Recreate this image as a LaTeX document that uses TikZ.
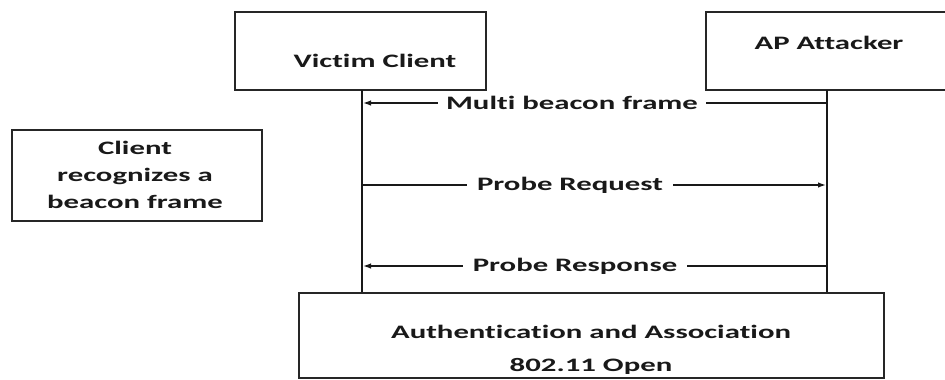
\documentclass[tikz,border=0pt]{standalone}
\usepackage{fontspec}
\setmainfont{Carlito}[FakeStretch=1.62, Ligatures=NoCommon, BoldFeatures={FakeStretch=1.62}]
\usetikzlibrary{arrows.meta,calc}
\begin{document}
\begin{tikzpicture}[x=1pt,y=-1pt,
  box/.style={draw=black!85, line width=1.4pt, fill=white, inner sep=0pt},
  txt/.style={font=\fontsize{19}{27}\selectfont\bfseries, text=black!90, inner sep=0pt, align=center},
  msg/.style={font=\fontsize{19}{22}\selectfont\bfseries, text=black!90, inner ysep=0pt, inner xsep=8pt, fill=white},
  life/.style={line width=1.4pt, draw=black!90},
  arr/.style={life, -{Latex[length=8pt,width=5.5pt]}}
]
\useasboundingbox (0,0) rectangle (945,380);
\clip (0,0) rectangle (945,380);

% participant boxes
\node[box, minimum width=251pt, minimum height=78pt] (victim) at (360.5,51) {};
\node[txt] (victimtxt) at (375,61) {Victim Client};
\node[box, minimum width=250pt, minimum height=78pt] (ap) at (831,51) {};
\node[txt] (aptxt) at (829,43) {AP Attacker};

% lifeline anchors
\coordinate (vtop) at (362,90);
\coordinate (atop) at (827,90);
\coordinate (vbot) at (362,293);
\coordinate (abot) at (827,293);
\draw[life] (vtop) -- (vbot);
\draw[life] (atop) -- (abot);

% side note
\node[box, minimum width=250pt, minimum height=91pt] (note) at (137,175.5) {};
\node[txt] (notetxt) at (135,175) {Client\\recognizes a\\beacon frame};

% final phase box
\node[box, minimum width=585pt, minimum height=85pt] (auth) at (591.5,335.5) {};
\node[txt, font=\fontsize{19}{33}\selectfont\bfseries] (authtxt) at (591,350) {Authentication and Association\\802.11 Open};

% messages
\node[msg] (m1) at (572,103) {Multi beacon frame};
\coordinate (m1a) at (827,103);
\coordinate (m1v) at (363,103);
\draw[life] (m1a) -- (m1.east);
\draw[arr] (m1.west) -- (m1v);

\node[msg, inner xsep=10pt] (m2) at (570,185) {Probe Request};
\coordinate (m2v) at (362,185);
\coordinate (m2a) at (826,185);
\draw[life] (m2v) -- (m2.west);
\draw[arr] (m2.east) -- (m2a);

\node[msg, inner xsep=10pt] (m3) at (575,266) {Probe Response};
\coordinate (m3a) at (827,266);
\coordinate (m3v) at (363,266);
\draw[life] (m3a) -- (m3.east);
\draw[arr] (m3.west) -- (m3v);
\end{tikzpicture}
\end{document}
